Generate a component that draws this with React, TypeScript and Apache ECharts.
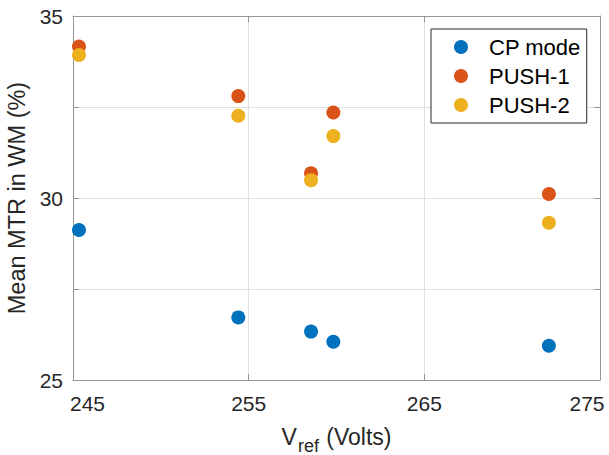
import React, { useEffect, useRef } from "react";
import * as echarts from "echarts";

const vref = [245.34, 254.41, 258.55, 259.82, 272.09];
const cpMode = [29.12, 26.72, 26.33, 26.05, 25.94];
const push1 = [34.16, 32.8, 30.68, 32.35, 30.11];
const push2 = [33.93, 32.26, 30.49, 31.7, 29.32];
const seriesNames = ["CP mode", "PUSH-1", "PUSH-2"];
const seriesColors = ["#0072BD", "#D95319", "#EDB120"];

const FONT = "'Liberation Sans', Arial, Helvetica, sans-serif";
const AXIS_COLOR = "#969696";
const TEXT_COLOR = "#262626";

export default function App() {
  const ref = useRef<HTMLDivElement>(null);
  useEffect(() => {
    if (!ref.current) return;
    const chart = echarts.init(ref.current, null, { renderer: "svg" });
    const pair = (ys: number[]) => vref.map((x, i) => [x, ys[i]]);
    const all = [cpMode, push1, push2];
    const xBase = {
      type: "value",
      min: 245,
      max: 275,
      interval: 10,
      axisLine: { show: true, lineStyle: { color: AXIS_COLOR, width: 1 } },
      axisTick: { show: true, inside: true, length: 6, lineStyle: { color: AXIS_COLOR } },
    };
    const yBase = {
      type: "value",
      min: 25,
      max: 35,
      interval: 2.5,
      axisLine: { show: true, lineStyle: { color: AXIS_COLOR, width: 1 } },
      axisTick: { show: true, inside: true, length: 6, lineStyle: { color: AXIS_COLOR } },
    };
    const tickText = { fontSize: 21, color: TEXT_COLOR, fontFamily: FONT };
    chart.setOption({
      animation: false,
      textStyle: { fontFamily: FONT },
      grid: { left: 73, right: 9, top: 16, bottom: 75, containLabel: false, outerBoundsMode: "none" },
      legend: {
        orient: "vertical",
        left: 431,
        top: 29,
        padding: [7, 6, 7, 23],
        itemGap: 7,
        itemWidth: 14,
        itemHeight: 14,
        borderColor: "#262626",
        borderWidth: 1,
        backgroundColor: "#fff",
        icon: "circle",
        textStyle: { fontSize: 22, color: "#000", fontFamily: FONT, padding: [0, 0, 0, 16] },
        data: seriesNames,
      },
      xAxis: [
        {
          ...xBase,
          position: "bottom",
          axisLabel: {
            ...tickText,
            margin: 13,
            formatter: (v: number) => (v === 245 ? `{l|${v}}` : v === 275 ? `{r|${v}}` : `{c|${v}}`),
            rich: {
              l: { ...tickText, padding: [0, 0, 0, 29] },
              r: { ...tickText, padding: [0, 26, 0, 0] },
              c: { ...tickText },
            },
          },
          splitLine: { show: true, lineStyle: { color: "#e0e0e0", width: 1 } },
          name: "{a|V}{b|ref}{a| (Volts)}",
          nameLocation: "middle",
          nameGap: 39,
          nameTextStyle: {
            color: TEXT_COLOR,
            rich: {
              a: { fontSize: 23, color: TEXT_COLOR, fontFamily: FONT },
              b: { fontSize: 18, color: TEXT_COLOR, fontFamily: FONT, padding: [18, 1, 0, 1] },
            },
          },
        },
        {
          ...xBase,
          position: "top",
          axisLabel: { show: false },
          splitLine: { show: false },
        },
      ],
      yAxis: [
        {
          ...yBase,
          position: "left",
          axisLabel: {
            ...tickText,
            margin: 10,
            formatter: (v: number) => (v % 5 === 0 ? String(v) : ""),
          },
          splitLine: { show: true, lineStyle: { color: "#e0e0e0", width: 1 } },
          name: "Mean MTR in WM (%)",
          nameLocation: "middle",
          nameGap: 36,
          nameTextStyle: { fontSize: 23.5, color: TEXT_COLOR, fontFamily: FONT },
        },
        {
          ...yBase,
          position: "right",
          axisLabel: { show: false },
          splitLine: { show: false },
        },
      ],
      series: all.map((ys, i) => ({
        name: seriesNames[i],
        type: "scatter",
        xAxisIndex: 0,
        yAxisIndex: 0,
        symbol: "circle",
        symbolSize: 14,
        itemStyle: { color: seriesColors[i], opacity: 1 },
        data: pair(ys),
      })),
    });
    return () => chart.dispose();
  }, []);
  return (
    <div
      ref={ref}
      style={{ position: "fixed", left: 0, top: 0, width: 609, height: 455, background: "#fff" }}
    />
  );
}
